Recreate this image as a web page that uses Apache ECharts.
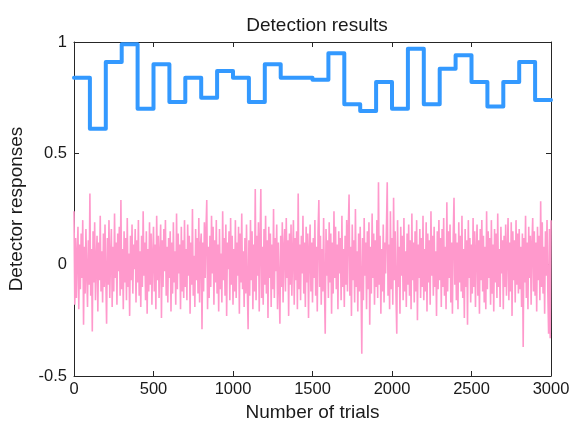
<!DOCTYPE html>
<html>
<head>
<meta charset="utf-8">
<title>Detection results</title>
<script src="https://cdn.jsdelivr.net/npm/echarts@6/dist/echarts.min.js"></script>
<style>
  html, body { margin: 0; padding: 0; background: #fff; }
  #chart { width: 570px; height: 426px; }
</style>
</head>
<body>
<div id="chart"></div>
<script>
// blue step line: one level per block of 100 trials
var stepStarts = [0, 100, 200, 300, 400, 500, 600, 700, 800, 900,
  1000, 1100, 1200, 1300, 1400, 1500, 1600, 1700, 1800, 1900,
  2000, 2100, 2200, 2300, 2400, 2500, 2600, 2700, 2800, 2900];
var stepValues = [0.84, 0.61, 0.91, 0.99, 0.70, 0.90, 0.73, 0.84, 0.75, 0.87,
  0.84, 0.73, 0.90, 0.84, 0.84, 0.83, 0.95, 0.72, 0.69, 0.82,
  0.70, 0.97, 0.72, 0.88, 0.94, 0.82, 0.71, 0.82, 0.91, 0.74];
var stepEnd = 3000;

// pink detector noise, one value every 5 trials
var noiseStep = 5;
var noiseValues = [
  .24,-.18,.12,-.15,.05,.17,-.2,.09,-.11,.14,-.06,.2,-.27,.08,-.13,.16,-.04,-.19,.11,-.09,
  .32,-.14,.07,-.3,.15,-.08,.19,-.16,.02,.13,-.21,.1,-.07,.22,-.12,.06,-.17,.14,-.1,.18,
  -.05,-.265,.12,-.09,.2,-.15,.04,.16,-.19,.08,-.12,.23,-.06,.1,-.18,.14,-.03,.17,-.14,.29,
  -.11,.07,-.2,.15,-.08,.12,-.16,.21,-.1,.05,-.23,.13,-.07,.18,-.13,.09,-.02,.16,-.17,.11,
  -.08,.2,-.14,.06,-.19,.13,-.1,.24,-.05,.1,-.16,.15,-.22,.07,-.12,.19,-.09,.14,-.18,.04,
  .17,-.12,.09,-.2,.22,-.07,.13,-.15,.05,.18,-.24,.11,-.1,.16,-.03,.2,-.14,.08,-.17,.12,
  -.06,.15,-.21,.1,-.13,.19,-.08,.06,-.18,.23,-.11,.14,-.04,.09,-.2,.17,-.12,.11,-.15,.2,
  -.1,.07,-.16,.18,-.05,.13,-.22,.1,-.09,.25,-.14,.04,-.19,.16,-.07,.12,-.13,.21,-.17,.08,
  .14,-.29,.1,-.12,.19,-.06,.15,.29,-.2,.08,-.15,.13,-.1,.22,-.04,.17,-.18,.11,-.08,.2,
  -.13,.09,-.21,.16,-.11,.05,-.17,.24,-.07,.12,-.14,.18,-.23,.1,-.02,.15,-.16,.21,-.09,.13,
  -.18,.07,-.12,.2,-.15,.1,-.05,.17,-.22,.14,-.08,.23,-.11,.06,-.19,.12,-.13,.18,-.1,-.29,
  .11,-.14,.2,-.07,.15,-.2,.09,-.12,.34,-.16,.13,-.05,.19,-.21,.1,.34,-.15,.08,-.18,.16,
  -.09,.22,-.13,.11,-.24,.17,-.06,.14,-.19,.09,-.11,.25,-.15,.12,-.03,.18,-.2,.1,-.08,-.265,
  .13,-.1,.19,-.17,.07,.16,-.12,.21,-.06,.11,-.23,.14,-.09,.18,-.14,.05,.2,-.18,.12,-.07,
  .15,-.2,.32,-.11,.09,-.16,.13,-.04,.22,-.13,.1,-.19,.17,-.08,.14,-.24,.06,.18,-.12,.1,
  -.17,.12,-.06,.2,-.14,.08,-.21,.15,.29,-.1,.13,-.18,.07,-.12,.21,-.09,-.31,.16,-.05,.11,
  -.15,.19,-.08,.14,-.22,.1,-.13,.24,-.06,.17,-.11,.09,-.2,.15,-.04,.12,-.16,.22,-.1,.07,
  -.19,.13,-.09,.2,-.12,.16,.315,-.14,.08,-.23,.18,-.07,.11,-.17,.25,-.1,.06,-.21,.14,-.12,
  .17,-.08,-.40,.12,-.16,.21,-.05,.1,-.2,.15,-.11,.19,-.27,.08,-.13,.23,-.06,.14,-.18,.11,
  -.1,.2,-.15,.37,-.09,.13,-.22,.07,-.12,.18,-.17,.1,-.04,.16,.37,-.14,.09,-.2,.24,-.11,
  .12,-.18,.30,-.07,.15,-.13,-.31,.2,-.1,.08,-.22,.17,-.05,.13,-.16,.21,-.12,.06,-.19,.14,
  -.09,.18,-.14,.11,-.2,.23,-.07,.1,-.17,.15,-.12,.2,-.25,.09,-.06,.16,-.15,.12,-.1,.22,
  -.16,.07,-.12,.19,-.21,.14,-.08,.11,-.18,.24,-.05,.13,-.14,.17,-.1,.06,-.23,.15,-.11,.2,
  -.07,.12,-.19,.16,-.1,.21,-.14,.08,-.2,.28,-.12,.15,-.06,.18,-.17,.1,-.22,.13,.30,-.09,
  .14,-.16,.1,-.2,.19,-.08,.13,-.12,.22,-.15,.07,-.24,.16,-.1,.11,-.27,.2,-.06,.12,-.17,
  .09,-.13,.21,-.1,.15,-.19,.06,.18,-.14,.11,-.22,.16,-.07,.2,-.12,.13,-.17,.08,-.2,.24,
  -.11,.15,-.06,.12,-.18,.2,-.13,.09,-.21,.16,-.08,.14,-.15,.23,-.1,.07,-.19,.17,-.04,.11,
  -.2,.13,-.1,.18,-.14,.06,.21,-.16,.1,-.12,.19,-.23,.15,-.07,.11,-.17,.2,-.09,.14,-.13,
  .16,-.11,.08,-.19,.14,-.37,.12,-.08,.22,-.15,.1,-.2,.17,-.06,.13,-.18,.09,.21,-.12,.15,
  -.14,.1,-.21,.17,-.07,.13,-.16,.285,-.1,.19,-.13,.08,-.22,.15,-.05,.2,-.12,-.31,.16,-.33,
  .2
];

var xTicks = { min: 0, max: 3000, interval: 500 };
var yTicks = { min: -0.5, max: 1, interval: 0.5 };

var axisColor = '#262626';
var textColor = '#1a1a1a';
var font = 'Liberation Sans, Arial, sans-serif';

// build [x, y] pairs for the library
var stepData = stepStarts.map(function (x, i) { return [x, stepValues[i]]; });
stepData.push([stepEnd, stepValues[stepValues.length - 1]]);
var noiseData = noiseValues.map(function (v, i) { return [i * noiseStep, v]; });

function boxAxis(extra) {
  return Object.assign({
    type: 'value',
    axisLine: { show: true, onZero: false, lineStyle: { color: axisColor, width: 1 } },
    axisTick: { show: true, inside: true, length: 5, lineStyle: { color: axisColor } },
    splitLine: { show: false },
    axisLabel: { show: false }
  }, extra);
}

var chart = echarts.init(document.getElementById('chart'));
chart.setOption({
  animation: false,
  backgroundColor: '#fff',
  title: {
    text: 'Detection results',
    left: 312,
    top: 11,
    textAlign: 'center',
    textStyle: { fontFamily: font, fontSize: 19, fontWeight: 'normal', color: textColor }
  },
  grid: { left: 74, right: 19, top: 42, bottom: 50, containLabel: false, outerBoundsMode: 'none' },
  xAxis: [
    boxAxis(Object.assign({}, xTicks, {
      position: 'bottom',
      name: 'Number of trials',
      nameLocation: 'middle',
      nameGap: 27,
      nameTextStyle: { fontFamily: font, fontSize: 19, color: textColor },
      axisLabel: {
        show: true, margin: 5, fontFamily: font, fontSize: 16.5, color: textColor,
        formatter: function (v) { return String(v); }
      }
    })),
    boxAxis(Object.assign({}, xTicks, { position: 'top' }))
  ],
  yAxis: [
    boxAxis(Object.assign({}, yTicks, {
      position: 'left',
      name: 'Detector responses',
      nameLocation: 'middle',
      nameGap: 48,
      nameRotate: 90,
      nameTextStyle: { fontFamily: font, fontSize: 19, color: textColor },
      axisLabel: { show: true, margin: 7, fontFamily: font, fontSize: 16.5, color: textColor }
    })),
    boxAxis(Object.assign({}, yTicks, { position: 'right' }))
  ],
  series: [
    {
      type: 'line',
      data: noiseData,
      xAxisIndex: 0,
      yAxisIndex: 0,
      showSymbol: false,
      clip: false,
      lineStyle: { color: '#ff99cc', width: 1.6 },
      z: 3
    },
    {
      type: 'line',
      data: stepData,
      step: 'end',
      xAxisIndex: 0,
      yAxisIndex: 0,
      showSymbol: false,
      clip: false,
      lineStyle: { color: '#3399ff', width: 4, join: 'round', cap: 'round' },
      z: 4
    }
  ]
});
</script>
</body>
</html>
